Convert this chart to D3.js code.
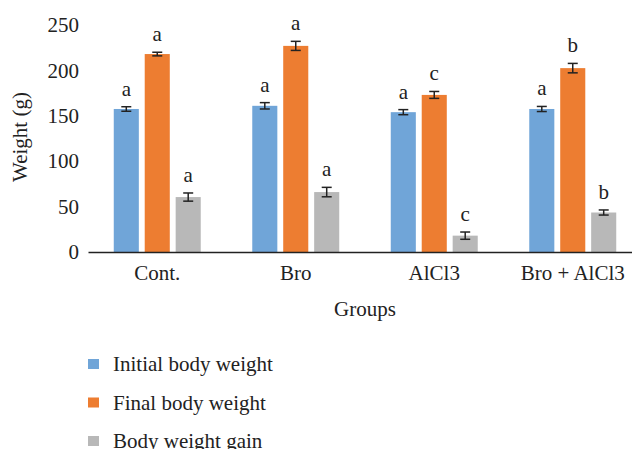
<!DOCTYPE html>
<html>
<head>
<meta charset="utf-8">
<script src="https://cdn.jsdelivr.net/npm/d3@7"></script>
<style>
  html, body { margin: 0; padding: 0; background: #fff; }
  svg text { font-family: "Liberation Serif", "Times New Roman", serif; fill: #222; }
</style>
</head>
<body>
<svg id="chart" width="632" height="449"></svg>
<script>
const groups = ["Cont.", "Bro", "AlCl3", "Bro + AlCl3"];
const seriesNames = ["Initial body weight", "Final body weight", "Body weight gain"];
const initialWeight = [157.5, 161, 154, 157.5];
const finalWeight = [218, 227, 173, 202.5];
const weightGain = [60.5, 66, 18, 43.5];
const initialErr = [2.5, 3.5, 2.8, 2.8];
const finalErr = [2, 5, 3.8, 5.2];
const gainErr = [4.5, 5.2, 4, 2.8];
const initialLetters = ["a", "a", "a", "a"];
const finalLetters = ["a", "a", "c", "b"];
const gainLetters = ["a", "a", "c", "b"];
const yTicks = [0, 50, 100, 150, 200, 250];
const colors = ["#70a5d8", "#ed7d31", "#b8b8b8"];

const values = [initialWeight, finalWeight, weightGain];
const errs = [initialErr, finalErr, gainErr];
const letters = [initialLetters, finalLetters, gainLetters];

const svg = d3.select("#chart");
const mLeft = 88, mRight = 642, mTop = 25, mBottom = 252;
const fs = "21px";

const x0 = d3.scaleBand().domain(groups).range([mLeft, mRight]).paddingInner(0.372).paddingOuter(0.186);
const x1 = d3.scaleBand().domain(seriesNames).range([0, x0.bandwidth()]).paddingInner(0.19).paddingOuter(0);
const y = d3.scaleLinear().domain([0, 250]).range([mBottom, mTop]);

// Y axis (labels only)
const yAxis = d3.axisLeft(y).tickValues(yTicks).tickSize(0).tickPadding(9);
const yg = svg.append("g").attr("transform", `translate(${mLeft},0)`).call(yAxis);
yg.select(".domain").remove();
yg.selectAll("text").style("font-size", fs).style("font-family", "Liberation Serif, serif").attr("fill", "#222");

// Bars
const data = [];
groups.forEach((g, gi) => {
  seriesNames.forEach((s, si) => {
    data.push({ g, s, si, v: values[si][gi], e: errs[si][gi], l: letters[si][gi] });
  });
});

svg.append("g").selectAll("rect").data(data).enter().append("rect")
  .attr("x", d => x0(d.g) + x1(d.s))
  .attr("y", d => y(d.v))
  .attr("width", x1.bandwidth())
  .attr("height", d => y(0) - y(d.v))
  .attr("fill", d => colors[d.si]);

// Error bars
const eg = svg.append("g").attr("stroke", "#222").attr("stroke-width", 1.5);
data.forEach(d => {
  const cx = x0(d.g) + x1(d.s) + x1.bandwidth() / 2;
  const yt = y(d.v + d.e), yb = y(d.v - d.e);
  eg.append("line").attr("x1", cx).attr("x2", cx).attr("y1", yt).attr("y2", yb);
  eg.append("line").attr("x1", cx - 5).attr("x2", cx + 5).attr("y1", yt).attr("y2", yt);
  eg.append("line").attr("x1", cx - 5).attr("x2", cx + 5).attr("y1", yb).attr("y2", yb);
});

// Letters
svg.append("g").selectAll("text").data(data).enter().append("text")
  .attr("x", d => x0(d.g) + x1(d.s) + x1.bandwidth() / 2)
  .attr("y", d => y(d.v + d.e) - 11)
  .attr("text-anchor", "middle")
  .style("font-size", fs)
  .text(d => d.l);

// X axis
const xAxis = d3.axisBottom(x0).tickSize(0).tickPadding(13);
const xg = svg.append("g").attr("transform", `translate(0,${mBottom})`).call(xAxis);
xg.select(".domain").attr("stroke", "#222").attr("stroke-width", 1.5);
xg.selectAll("text").style("font-size", fs).style("font-family", "Liberation Serif, serif").attr("fill", "#222");

// Axis titles
svg.append("text")
  .attr("transform", `translate(27,137) rotate(-90)`)
  .attr("text-anchor", "middle")
  .style("font-size", fs)
  .text("Weight (g)");

svg.append("text")
  .attr("x", 365)
  .attr("y", 316)
  .attr("text-anchor", "middle")
  .style("font-size", fs)
  .text("Groups");

// Legend
const lg = svg.append("g");
seriesNames.forEach((s, i) => {
  const ly = 364 + i * 38.5;
  lg.append("rect").attr("x", 88).attr("y", ly - 5).attr("width", 11).attr("height", 10).attr("fill", colors[i]);
  lg.append("text").attr("x", 113).attr("y", ly + 7).style("font-size", fs).text(s);
});
</script>
</body>
</html>
